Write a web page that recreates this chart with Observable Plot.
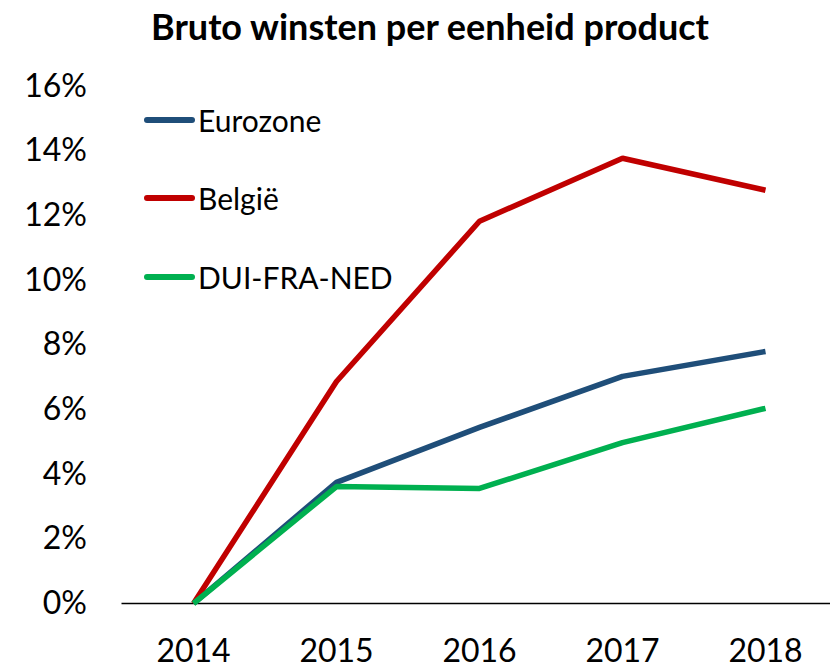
<!DOCTYPE html>
<html>
<head>
<meta charset="utf-8">
<script src="https://cdn.jsdelivr.net/npm/d3@7"></script>
<script src="https://cdn.jsdelivr.net/npm/@observablehq/plot@0.6"></script>
<style>
  html, body { margin: 0; padding: 0; background: #fff; }
  #wrap { position: relative; width: 830px; height: 669px; font-family: Lato, "Open Sans", sans-serif; overflow: hidden; }
  #title { height: 60px; box-sizing: border-box; padding-top: 8px; line-height: 1; text-align: center; font-weight: bold; font-size: 36px; color: #000; padding-left: 30px; white-space: nowrap; }
  #legend { position: absolute; left: 144px; top: 0; }
  .item { position: absolute; left: 0; display: flex; align-items: center; height: 40px; font-size: 30px; color: #000; white-space: nowrap; }
  .sw { width: 51px; height: 6px; border-radius: 3px; margin-right: 3px; flex: none; }
</style>
</head>
<body>
<div id="wrap">
  <div id="title">Bruto winsten per eenheid product</div>
  <div id="chart"></div>
  <div id="legend"></div>
</div>
<script>
const years = [2014, 2015, 2016, 2017, 2018];
const seriesNames = ["Eurozone", "België", "DUI-FRA-NED"];
const seriesColors = ["#1F4E79", "#C00000", "#00B050"];
const eurozone = [0, 3.75, 5.45, 7.03, 7.8];
const belgie = [0, 6.87, 11.83, 13.78, 12.79];
const duiFraNed = [0, 3.62, 3.56, 4.98, 6.04];
const yTicks = [0, 2, 4, 6, 8, 10, 12, 14, 16];

const valuesBySeries = [eurozone, belgie, duiFraNed];
const data = [];
seriesNames.forEach((s, i) => years.forEach((y, j) => data.push({series: s, year: y, value: valuesBySeries[i][j]})));

const plot = Plot.plot({
  width: 830,
  height: 609,
  marginLeft: 121.5,
  marginRight: 0,
  marginTop: 26,
  marginBottom: 66,
  style: {fontFamily: "Lato, 'Open Sans', sans-serif", fontSize: "32px", color: "#000", background: "#fff", overflow: "visible"},
  x: {domain: [2013.5, 2018.5], range: [121.5, 836.5], axis: null, label: null},
  y: {domain: [0, 16], axis: null, label: null},
  color: {domain: seriesNames, range: seriesColors},
  marks: [
    Plot.axisY(yTicks, {tickSize: 0, tickPadding: 35, tickFormat: d => d + "%", fontSize: 32, label: null}),
    Plot.axisX(years, {tickSize: 0, tickPadding: 36, tickFormat: d => String(d), fontSize: 32, label: null}),
    Plot.ruleY([0], {stroke: "#000", strokeWidth: 1.5}),
    Plot.line(data, {x: "year", y: "value", z: "series", stroke: "series", strokeWidth: 5.5, strokeLinejoin: "miter", strokeLinecap: "butt"})
  ]
});
document.getElementById("chart").appendChild(plot);

const legend = document.getElementById("legend");
const legendCenters = [120, 198, 277];
seriesNames.forEach((s, i) => {
  const it = document.createElement("div");
  it.className = "item";
  it.style.top = (legendCenters[i] - 20) + "px";
  it.innerHTML = `<span class="sw" style="background:${seriesColors[i]}"></span><span>${s}</span>`;
  legend.appendChild(it);
});
</script>
</body>
</html>
